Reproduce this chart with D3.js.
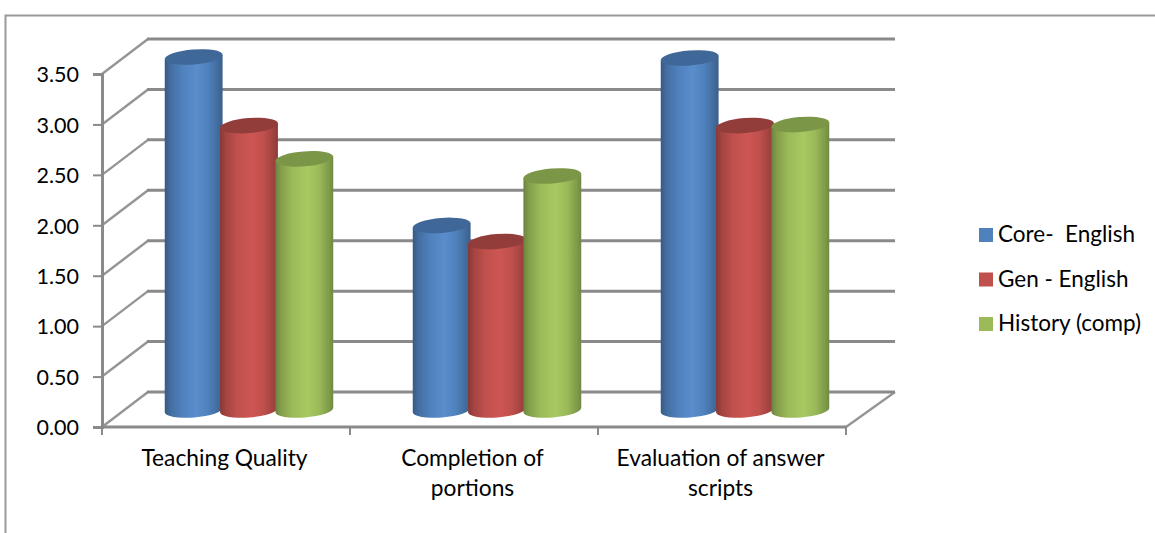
<!DOCTYPE html>
<html><head><meta charset="utf-8">
<script src="https://cdn.jsdelivr.net/npm/d3@7"></script>
<style>html,body{margin:0;padding:0;background:#fff}svg{display:block}text{font-family:Lato,"Open Sans",sans-serif;fill:#000}</style>
</head><body><div id="c"></div>
<script>
const categories=[["Teaching Quality"],["Completion of","portions"],["Evaluation of answer","scripts"]];
const seriesNames=["Core-  English","Gen - English","History (comp)"];
const colors=["#4f81bd","#c0504d","#9bbb59"];
const highlights=["#5a8dcc","#cd5653","#a8c862"];
const lids=["#3f6797","#923d3a","#7b9647"];
const core=[3.5,1.83,3.49];
const gen=[2.82,1.67,2.82];
const hist=[2.49,2.32,2.83];
const series=[core,gen,hist];
const ticks=[0,0.5,1,1.5,2,2.5,3,3.5];

const W=1155,H=533;
const svg=d3.select("#c").append("svg").attr("width",W).attr("height",H);
const x=d3.scaleBand().domain([0,1,2]).range([102,846]);
const y=d3.scaleLinear().domain([0,3.5]).range([427,74]);
const dx=46,dy=-35;
const inner=d3.scaleBand().domain([0,1,2]).range([-83,83]);
const grid="#8a8a8a";

// outer frame
svg.append("path").attr("d",`M5.5,533V15.5H${W}`).attr("fill","none").attr("stroke","#9a9a9a").attr("stroke-width",2);

// gradients
const defs=svg.append("defs");
function shade(c,k){return d3.rgb(c).darker(k).formatHex();}
colors.forEach((c,i)=>{
  const g=defs.append("linearGradient").attr("id","g"+i);
  [[0,shade(c,1)],[0.1,shade(c,0.45)],[0.3,c],[0.55,highlights[i]],[0.75,c],[0.93,shade(c,0.55)],[1,shade(c,0.9)]]
    .forEach(s=>g.append("stop").attr("offset",s[0]).attr("stop-color",s[1]));
});

// back-wall gridlines and side-wall diagonals
const gg=svg.append("g").attr("fill","none").attr("stroke",grid);
ticks.forEach(t=>{
  const yy=y(t);
  gg.append("line").attr("x1",102+dx-1).attr("x2",846+dx+3).attr("y1",yy+dy).attr("y2",yy+dy).attr("stroke-width",3);
  gg.append("line").attr("x1",102).attr("x2",102+dx).attr("y1",yy).attr("y2",yy+dy).attr("stroke-width",2.4).attr("stroke-opacity",0.9);
});
// floor right edge
gg.append("line").attr("x1",846).attr("y1",y(0)).attr("x2",846+dx+3).attr("y2",y(0)+dy).attr("stroke-width",2.4).attr("stroke-opacity",0.9);

// axes
const yAxis=d3.axisLeft(y).tickValues(ticks).tickFormat(d3.format(".2f")).tickSize(9);
const ya=svg.append("g").attr("transform","translate(102,0)").call(yAxis);
ya.select(".domain").attr("stroke",grid).attr("stroke-width",3);
ya.selectAll(".tick line").attr("stroke",grid).attr("stroke-width",2);
ya.selectAll("text").attr("font-size",21.5).attr("font-family","Lato").attr("fill","#000").attr("x",-23).attr("dy","0.36em");

svg.append("line").attr("x1",101).attr("x2",847).attr("y1",y(0)).attr("y2",y(0)).attr("stroke",grid).attr("stroke-width",3);
[0,1,2].forEach(i=>drawTick(x(i)));
drawTick(846);
function drawTick(px){svg.append("line").attr("x1",px).attr("x2",px).attr("y1",y(0)).attr("y2",y(0)+8).attr("stroke",grid).attr("stroke-width",2);}

// cylinders
const rx=29,ry=7.5;
series.forEach((vals,s)=>{
  vals.forEach((v,i)=>{
    const cx=x(i)+x.bandwidth()/2+dx/2+inner(s)+inner.bandwidth()/2;
    const yb=y(0)+dy/2+0.5, yt=y(v)+dy/2+0.5;
    const a=-4.5;
    const rad=a*Math.PI/180;
    const ox=rx*Math.cos(rad), oy=rx*Math.sin(rad);
    const g=svg.append("g");
    g.append("path")
      .attr("d",`M${cx-ox},${yt-oy} L${cx+ox},${yt+oy} L${cx+ox},${yb+oy} A${rx},${ry} ${a} 0 1 ${cx-ox},${yb-oy} Z`)
      .attr("fill",`url(#g${s})`);
    g.append("ellipse").attr("cx",0).attr("cy",0).attr("rx",rx).attr("ry",ry)
      .attr("transform",`translate(${cx},${yt}) rotate(${a})`)
      .attr("fill",lids[s]);
  });
});

// category labels
categories.forEach((lines,i)=>{
  const t=svg.append("text").attr("text-anchor","middle").attr("font-size",22.75)
    .attr("transform",`translate(${x(i)+x.bandwidth()/2-1.5},466)`);
  lines.forEach((l,j)=>t.append("tspan").attr("x",0).attr("dy",j?30:0).text(l));
});

// legend
const ly=d3.scalePoint().domain([0,1,2]).range([235,324]);
seriesNames.forEach((n,i)=>{
  svg.append("rect").attr("x",979).attr("y",ly(i)-7).attr("width",14).attr("height",14).attr("fill",colors[i]);
  svg.append("text").attr("x",998).attr("y",ly(i)+7).attr("font-size",22.5).attr("xml:space","preserve").style("white-space","pre").text(n);
});
</script></body></html>
